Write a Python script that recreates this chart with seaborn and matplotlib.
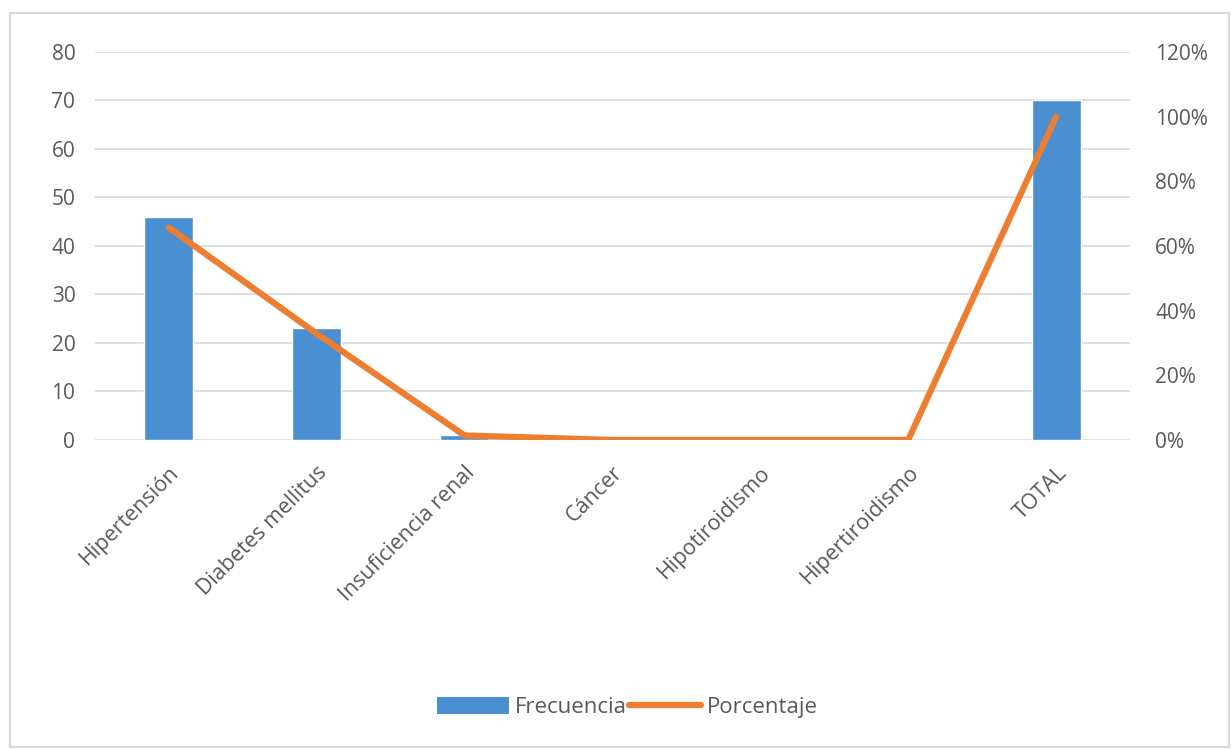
import numpy as np
import matplotlib
matplotlib.use("Agg")
import matplotlib.pyplot as plt
import seaborn as sns
from matplotlib.patches import Patch, Rectangle
from matplotlib.lines import Line2D
from matplotlib.ticker import FuncFormatter

categorias = ["Hipertensión", "Diabetes mellitus", "Insuficiencia renal", "Cáncer",
              "Hipotiroidismo", "Hipertiroidismo", "TOTAL"]
frecuencia = [46, 23, 1, 0, 0, 0, 70]
porcentaje = [65.7, 32.9, 1.4, 0, 0, 0, 100]

sns.set_style("white")
plt.rcParams['font.family'] = ['Open Sans', 'DejaVu Sans']
gris = "#595959"

fig = plt.figure(figsize=(12.31, 7.49), dpi=100)
ax = fig.add_axes([0.077, 0.4126, 0.841, 0.518])

# barras (eje izquierdo)
sns.barplot(x=categorias, y=frecuencia, color="#4A8FD2", saturation=1, width=0.33, ax=ax, zorder=3)
ax.set_ylim(0, 80)
ax.set_yticks(range(0, 81, 10))
ax.yaxis.grid(True, color="#D9D9D9", linewidth=1.2, zorder=0)
ax.set_axisbelow(True)
ax.set_xlim(-0.5, 6.5)
for s in ax.spines.values():
    s.set_visible(False)
ax.tick_params(axis="y", length=0, labelsize=15, colors=gris, pad=14)
ax.set_xticks(range(len(categorias)))
ax.set_xticklabels(categorias, rotation=45, ha="right", rotation_mode="anchor")
ax.tick_params(axis="x", length=0, labelsize=15.5, colors=gris, pad=16)

# linea (eje derecho)
ax2 = ax.twinx()
sns.lineplot(x=np.arange(len(categorias)), y=porcentaje, color="#ED7D31", linewidth=4.5, ax=ax2, zorder=4)
ax2.set_ylim(0, 120)
ax2.set_yticks(range(0, 121, 20))
ax2.yaxis.set_major_formatter(FuncFormatter(lambda v, p: f"{int(v)}%"))
for s in ax2.spines.values():
    s.set_visible(False)
ax2.tick_params(axis="y", length=0, labelsize=15, colors=gris, pad=18)
ax2.set_xlim(-0.5, 6.5)

handles = [Patch(facecolor="#4A8FD2", edgecolor="none"),
           Line2D([0], [0], color="#ED7D31", linewidth=4.5)]
fig.legend(handles, ["Frecuencia", "Porcentaje"], loc="center", bbox_to_anchor=(0.51, 0.055),
           ncol=2, frameon=False, fontsize=16, labelcolor=gris, handlelength=3.2,
           handleheight=0.8, columnspacing=0.1, handletextpad=0.3)

fig.patches.append(Rectangle((0.008, 0.003), 0.99, 0.98, transform=fig.transFigure,
                             fill=False, edgecolor="#D9D9D9", linewidth=1.5))

fig.savefig("out.png", dpi=100)
